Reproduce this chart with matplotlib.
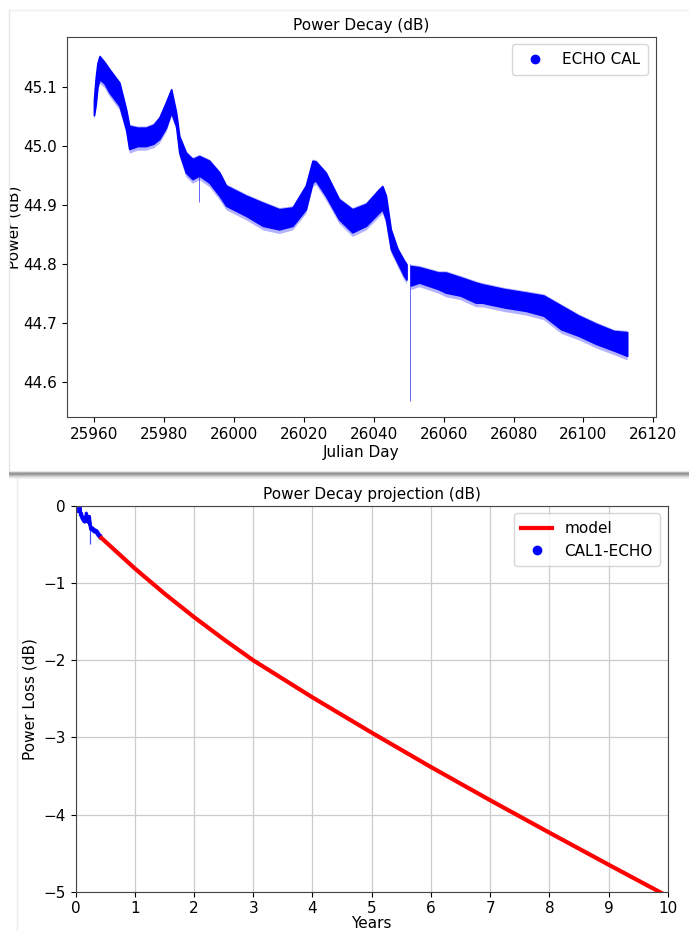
import matplotlib
matplotlib.use("Agg")
import numpy as np
from matplotlib import pyplot as plt
from matplotlib.lines import Line2D
from matplotlib.patches import Rectangle

# ECHO CAL power, upper/lower edge of the measured band (dB) vs Julian day
days_a = [25960.0, 25960.5, 25961.0, 25961.6, 25963.0, 25964.4, 25967.3, 25969.2, 25970.1,
          25972.5, 25974.9, 25977.0, 25978.7, 25980.6, 25982.1, 25983.5, 25984.4, 25986.3,
          25988.2, 25990.1, 25993.0, 25995.9, 25997.8, 26003.5, 26008.3, 26013.0, 26016.8,
          26020.6, 26022.5, 26023.4, 26026.3, 26030.1, 26033.9, 26037.8, 26041.6, 26042.5,
          26043.5, 26044.9, 26046.8, 26048.7, 26049.4]
upper_a = [45.078, 45.115, 45.140, 45.152, 45.142, 45.130, 45.107, 45.062, 45.034,
           45.031, 45.031, 45.036, 45.048, 45.074, 45.096, 45.057, 45.017, 44.989,
           44.978, 44.983, 44.975, 44.955, 44.933, 44.916, 44.904, 44.893, 44.896,
           44.933, 44.975, 44.974, 44.955, 44.910, 44.893, 44.902, 44.927, 44.932,
           44.916, 44.859, 44.826, 44.806, 44.800]
lower_a = [45.052, 45.070, 45.100, 45.113, 45.106, 45.091, 45.068, 45.028, 44.995,
           45.000, 45.000, 45.004, 45.012, 45.031, 45.057, 45.034, 44.989, 44.955,
           44.944, 44.950, 44.938, 44.916, 44.899, 44.882, 44.865, 44.859, 44.865,
           44.893, 44.938, 44.942, 44.916, 44.876, 44.854, 44.865, 44.888, 44.893,
           44.876, 44.826, 44.803, 44.780, 44.774]

days_b = [26050.6, 26053.0, 26058.5, 26060.6, 26064.8, 26069.2, 26071.0, 26077.3, 26083.6,
          26088.6, 26093.6, 26098.6, 26103.7, 26108.7, 26112.5]
upper_b = [44.797, 44.795, 44.786, 44.786, 44.778, 44.769, 44.766, 44.758, 44.752,
           44.747, 44.730, 44.713, 44.699, 44.687, 44.685]
lower_b = [44.764, 44.769, 44.758, 44.752, 44.747, 44.735, 44.735, 44.727, 44.721,
           44.713, 44.690, 44.679, 44.665, 44.654, 44.645]

# isolated drop-outs: (day, lowest dB, highest dB)
spikes = [(25990.1, 44.905, 44.950), (26050.3, 44.569, 44.800)]

# reference level subtracted for the loss plot
ref_db = 45.065
day0 = 25960

# fitted model of the loss (dB) vs years
model_years = [0.41, 1.0, 1.5, 2.0, 2.5, 3.0, 4.0, 5.0, 6.0, 7.0, 8.0, 9.0, 10.0]
model_loss = [-0.40, -0.813, -1.138, -1.443, -1.730, -2.003, -2.483, -2.940,
              -3.385, -3.815, -4.235, -4.650, -5.060]

W, H = 689, 931
fig = plt.figure(figsize=(W / 100, H / 100), dpi=100)
fig.patch.set_facecolor("white")


def fig_rect(left, top, right, bottom):
    return [left / W, 1 - bottom / H, (right - left) / W, (bottom - top) / H]


blue = "#0000ff"
spine_col = "#444444"
fs = 11

# ---- measured power ----
ax1 = fig.add_axes(fig_rect(67, 36.7, 655.5, 417.3))
for d, u, l in ((days_a, upper_a, lower_a), (days_b, upper_b, lower_b)):
    u, l = np.array(u), np.array(l)
    # soft fringe of the scattered samples around the dense core
    ax1.fill_between(d, l - 0.007, u + 0.003, color=blue, linewidth=0, alpha=0.3)
    ax1.fill_between(d, l, u, color=blue, linewidth=1.2, edgecolor=blue)
for d, lo, hi in spikes:
    ax1.vlines(d, lo, hi, color=blue, linewidth=0.7, alpha=0.6)
ax1.set_xlim(25952.3, 26120.6)
ax1.set_ylim(44.541, 45.185)
ax1.set_xticks(np.arange(25960, 26121, 20))
ax1.set_yticks([44.6, 44.7, 44.8, 44.9, 45.0, 45.1])
ax1.tick_params(labelsize=fs)
ax1.set_title("Power Decay (dB)", fontsize=fs, pad=5)
ax1.set_xlabel("Julian Day", fontsize=fs, labelpad=2)
ax1.set_ylabel("Power (dB)", fontsize=fs)
ax1.yaxis.set_label_coords(-0.078, 0.5)
for s in ax1.spines.values():
    s.set_color(spine_col)
h1 = Line2D([], [], marker="o", color=blue, linestyle="none", markersize=6)
ax1.legend([h1], ["ECHO CAL"], loc="upper right", fontsize=fs, borderpad=0.5)

# ---- projected loss ----
ax2 = fig.add_axes(fig_rect(75.6, 505.7, 667.8, 891.7))
ax2.plot(model_years, model_loss, color="red", linewidth=3, solid_capstyle="butt")
for d, u, l in ((days_a, upper_a, lower_a), (days_b, upper_b, lower_b)):
    yrs = (np.array(d) - day0) / 365.25
    ax2.fill_between(yrs, np.array(l) - ref_db, np.array(u) - ref_db,
                     color=blue, linewidth=2.2, edgecolor=blue)
for d, lo, hi in spikes:
    ax2.vlines((d - day0) / 365.25, lo - ref_db, hi - ref_db, color=blue, linewidth=0.9, alpha=0.7)
ax2.set_xlim(0, 10)
ax2.set_ylim(-5, 0)
ax2.set_xticks(range(0, 11))
ax2.set_yticks(range(-5, 1))
ax2.grid(True, color="#cccccc", linewidth=0.9)
ax2.tick_params(labelsize=fs)
ax2.set_title("Power Decay projection (dB)", fontsize=fs, pad=5)
ax2.set_xlabel("Years", fontsize=fs, labelpad=0)
ax2.set_ylabel("Power Loss (dB)", fontsize=fs)
for s in ax2.spines.values():
    s.set_color(spine_col)
h_model = Line2D([], [], color="red", linewidth=3)
h_cal = Line2D([], [], marker="o", color=blue, linestyle="none", markersize=6)
ax2.legend([h_model, h_cal], ["model", "CAL1-ECHO"], loc="upper right", fontsize=fs, borderpad=0.5)

# mask the left strip so the first y label is cut like the panel edge
fig.add_artist(Rectangle((0, 0.49), 9 / W, 0.51, transform=fig.transFigure,
                         facecolor="white", edgecolor="none", zorder=5))
# panel edges and the drop shadow between the two panels
fig.add_artist(Line2D([9 / W, 9 / W], [1 - 10 / H, 1 - 470 / H], transform=fig.transFigure,
                      color="#e6e6e6", linewidth=1, zorder=6))
fig.add_artist(Line2D([9 / W, 1], [1 - 10 / H, 1 - 10 / H], transform=fig.transFigure,
                      color="#eeeeee", linewidth=1, zorder=6))
fig.add_artist(Line2D([17 / W, 17 / W], [1 - 479 / H, 0], transform=fig.transFigure,
                      color="#eeeeee", linewidth=1, zorder=6))
shade = [0.10, 0.30, 0.42, 0.38, 0.28, 0.18, 0.10, 0.05]
for i, a in enumerate(shade):
    fig.add_artist(Rectangle((9 / W, 1 - (471 + i + 1) / H), 1, 1 / H, transform=fig.transFigure,
                             facecolor="black", alpha=a, edgecolor="none", zorder=6))

fig.savefig("out.png", dpi=100)
